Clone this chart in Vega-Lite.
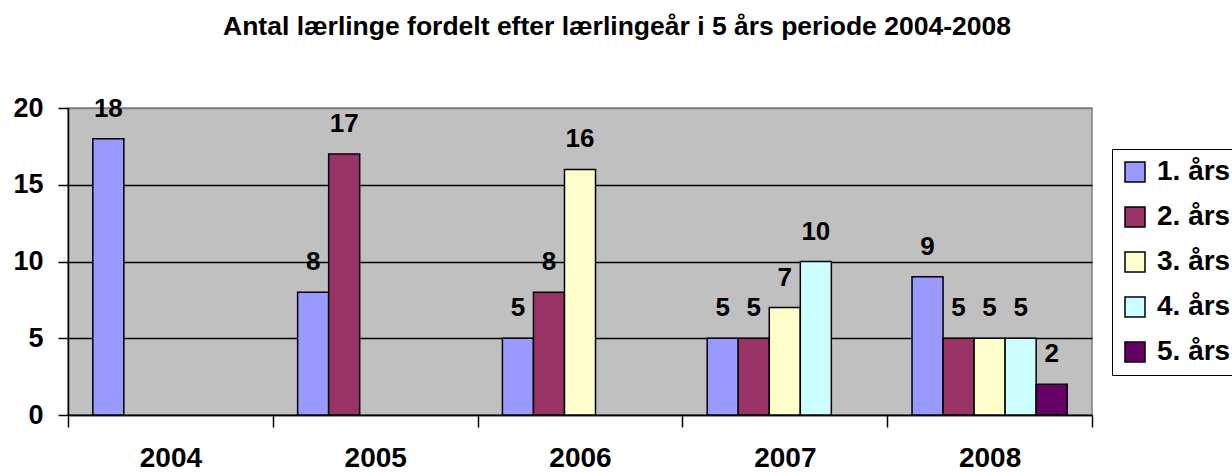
{
  "$schema": "https://vega.github.io/schema/vega-lite/v6.json",
  "width": 1024,
  "height": 307,
  "autosize": "none",
  "padding": {"left": 68, "top": 108, "right": 140, "bottom": 58},
  "background": "white",
  "title": {
    "text": "Antal lærlinge fordelt efter lærlingeår i 5 års periode 2004-2008",
    "font": "Liberation Sans",
    "fontSize": 26.5,
    "fontWeight": "bold",
    "color": "black",
    "anchor": "middle",
    "dx": 37,
    "offset": 54
  },
  "config": {
    "view": {"fill": "#C0C0C0", "stroke": "#808080", "strokeWidth": 1.5}
  },
  "data": {
    "values": [
      {"year": "2004", "type": "1. års", "value": 18},
      {"year": "2005", "type": "1. års", "value": 8},
      {"year": "2005", "type": "2. års", "value": 17},
      {"year": "2006", "type": "1. års", "value": 5},
      {"year": "2006", "type": "2. års", "value": 8},
      {"year": "2006", "type": "3. års", "value": 16},
      {"year": "2007", "type": "1. års", "value": 5},
      {"year": "2007", "type": "2. års", "value": 5},
      {"year": "2007", "type": "3. års", "value": 7},
      {"year": "2007", "type": "4. års", "value": 10},
      {"year": "2008", "type": "1. års", "value": 9},
      {"year": "2008", "type": "2. års", "value": 5},
      {"year": "2008", "type": "3. års", "value": 5},
      {"year": "2008", "type": "4. års", "value": 5},
      {"year": "2008", "type": "5. års", "value": 2}
    ]
  },
  "encoding": {
    "x": {
      "field": "year",
      "type": "nominal",
      "scale": {"paddingInner": 0, "paddingOuter": 0},
      "axis": {
        "title": null,
        "labelAngle": 0,
        "labelFont": "Liberation Sans",
        "labelFontSize": 28,
        "labelFontWeight": "bold",
        "labelColor": "black",
        "labelPadding": 17,
        "tickBand": "extent",
        "tickColor": "black",
        "tickWidth": 1.5,
        "tickSize": 12,
        "domainColor": "black",
        "domainWidth": 1.5
      }
    },
    "xOffset": {
      "field": "type",
      "type": "nominal",
      "scale": {"domain": ["1. års", "2. års", "3. års", "4. års", "5. års"], "paddingInner": 0, "paddingOuter": 0.8}
    },
    "y": {
      "field": "value",
      "type": "quantitative",
      "scale": {"domain": [0, 20], "nice": false},
      "axis": {
        "title": null,
        "values": [0, 5, 10, 15, 20],
        "labelFont": "Liberation Sans",
        "labelFontSize": 27,
        "labelFontWeight": "bold",
        "labelColor": "black",
        "labelPadding": 15,
        "tickColor": "black",
        "tickWidth": 1.5,
        "tickSize": 10,
        "domainColor": "black",
        "domainWidth": 1.5,
        "gridColor": {"condition": {"test": "datum.value == 20", "value": "#808080"}, "value": "black"},
        "gridWidth": 1.5
      }
    }
  },
  "layer": [
    {
      "mark": {"type": "bar", "stroke": "black", "strokeWidth": 1.5},
      "encoding": {
        "color": {
          "field": "type",
          "type": "nominal",
          "scale": {
            "domain": ["1. års", "2. års", "3. års", "4. års", "5. års"],
            "range": ["#9999FF", "#993366", "#FFFFCC", "#CCFFFF", "#660066"]
          },
          "legend": {
            "title": null,
            "orient": "none",
            "legendX": 1044,
            "legendY": 41,
            "padding": 9,
            "strokeColor": "black",
            "fillColor": "white",
            "symbolType": "square",
            "symbolSize": 400,
            "symbolStrokeColor": "black",
            "symbolStrokeWidth": 1.5,
            "symbolOpacity": 1,
            "labelFont": "Liberation Sans",
            "labelFontSize": 28,
            "labelFontWeight": "bold",
            "labelColor": "black",
            "labelOffset": 8,
            "rowPadding": 17,
            "labelLimit": 200
          }
        }
      }
    },
    {
      "mark": {
        "type": "text",
        "baseline": "middle",
        "dy": -30,
        "font": "Liberation Sans",
        "fontSize": 26,
        "fontWeight": "bold",
        "color": "black"
      },
      "encoding": {"text": {"field": "value", "type": "quantitative"}}
    }
  ]
}
